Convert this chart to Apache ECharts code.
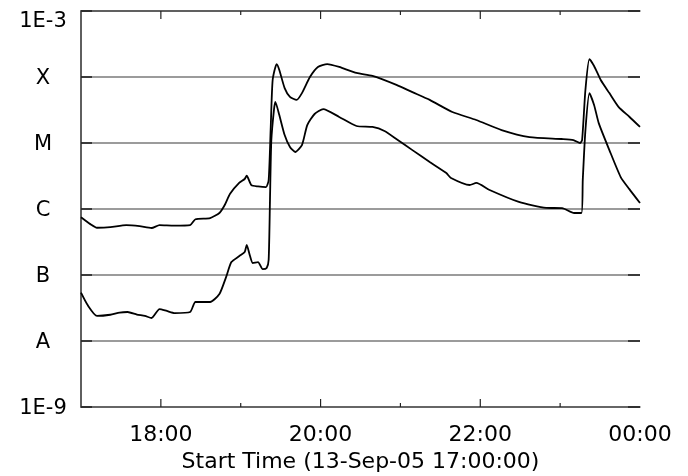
<!DOCTYPE html>
<html>
<head>
<meta charset="utf-8">
<script src="https://cdn.jsdelivr.net/npm/echarts@6/dist/echarts.min.js"></script>
<style>
  html, body { margin: 0; padding: 0; background: #fff; }
  #chart { width: 688px; height: 476px; }
</style>
</head>
<body>
<div id="chart"></div>
<script>
// GOES X-ray flux, 13-Sep-2005 17:00 - 00:00 UT (W/m^2)
// Time is minutes after 17:00:00.
var longMin = [0, 7, 12, 22, 34, 44, 53, 59, 70, 82, 86, 97, 104, 108, 112, 119, 123, 124.5, 128, 133, 139, 141, 142.5, 144, 147, 149, 153, 157, 162, 166, 172, 178, 185, 194, 207, 219, 237, 249, 262, 279, 297, 316, 337, 361, 370, 375, 376.5, 379, 382, 385.5, 390.5, 397, 404, 412, 420];
var longFlux = [7.5e-7, 5.9e-7, 5.2e-7, 5.3e-7, 5.7e-7, 5.5e-7, 5.15e-7, 5.7e-7, 5.6e-7, 5.7e-7, 7.0e-7, 7.3e-7, 8.7e-7, 1.15e-6, 1.7e-6, 2.5e-6, 2.85e-6, 3.2e-6, 2.3e-6, 2.2e-6, 2.15e-6, 2.75e-6, 1.6e-5, 9.0e-5, 1.57e-4, 1.28e-4, 6.8e-5, 5.0e-5, 4.5e-5, 5.7e-5, 1.0e-4, 1.42e-4, 1.57e-4, 1.42e-4, 1.15e-4, 1.04e-4, 7.6e-5, 5.9e-5, 4.5e-5, 2.95e-5, 2.23e-5, 1.57e-5, 1.23e-5, 1.15e-5, 1.11e-5, 1.0e-5, 1.11e-5, 6.4e-5, 1.87e-4, 1.47e-4, 9.0e-5, 5.7e-5, 3.5e-5, 2.5e-5, 1.75e-5];

var shortMin = [0, 5, 12, 22, 29, 35, 42, 48, 53, 59, 64.5, 70.5, 82, 86, 97, 104, 109, 113, 119, 123, 124.5, 127, 129, 133, 136.5, 139.5, 141, 142, 143, 145, 146, 149, 153, 157, 161, 166, 170, 175.5, 182, 194, 207, 219, 228, 238, 249, 262, 274.5, 278, 292, 297, 307, 329, 349.5, 361.5, 370.5, 376, 377, 379, 382, 385.5, 389, 397, 405.5, 412, 420];
var shortFlux = [5.4e-8, 3.5e-8, 2.4e-8, 2.5e-8, 2.7e-8, 2.75e-8, 2.52e-8, 2.4e-8, 2.23e-8, 3.05e-8, 2.85e-8, 2.65e-8, 2.75e-8, 3.9e-8, 3.9e-8, 5.15e-8, 9.3e-8, 1.57e-7, 1.94e-7, 2.23e-7, 2.85e-7, 1.94e-7, 1.52e-7, 1.57e-7, 1.23e-7, 1.28e-7, 1.7e-7, 1.4e-6, 1.1e-5, 3.2e-5, 4.2e-5, 2.65e-5, 1.32e-5, 8.7e-6, 7.3e-6, 9.3e-6, 1.87e-5, 2.75e-5, 3.27e-5, 2.48e-5, 1.81e-5, 1.75e-5, 1.52e-5, 1.11e-5, 7.8e-6, 5.15e-6, 3.5e-6, 2.95e-6, 2.31e-6, 2.48e-6, 1.94e-6, 1.28e-6, 1.04e-6, 1.03e-6, 8.7e-7, 8.7e-7, 2.75e-6, 1.57e-5, 5.7e-5, 3.77e-5, 2.0e-5, 7.8e-6, 3.05e-6, 2.0e-6, 1.23e-6];

// Axis labels and tick positions
var fluxDecades = [1e-9, 1e-8, 1e-7, 1e-6, 1e-5, 1e-4, 1e-3];
var fluxLabels = { '-3': '1E-3', '-4': 'X', '-5': 'M', '-6': 'C', '-7': 'B', '-8': 'A', '-9': '1E-9' };
var timeLabelValues = [60, 180, 300, 420];
var timeLabels = ['18:00', '20:00', '22:00', '00:00'];
var majorTickValues = [60, 180, 300];
var minorTickValues = [120, 240, 360];
var xTitle = 'Start Time (13-Sep-05 17:00:00)';

function pairs(xs, ys) {
  return xs.map(function (x, i) { return [x, ys[i]]; });
}

var FONT = 'DejaVu Sans';
var axisColor = '#555';
var gridColor = '#7a7a7a';
var tickColor = '#222';
var hidden = { show: false };

var labelBox = { width: 62, align: 'center', fontFamily: FONT, fontSize: 21, color: '#000' };

var option = {
  animation: false,
  backgroundColor: '#fff',
  grid: { left: 81, right: 48, top: 11, bottom: 69, containLabel: false, outerBoundsMode: 'none' },
  xAxis: [
    {
      type: 'value', position: 'bottom', min: 0, max: 420, interval: 60,
      axisLine: { show: true, lineStyle: { color: axisColor, width: 1.5 } },
      axisTick: hidden,
      axisLabel: {
        show: true, customValues: timeLabelValues, margin: 17,
        fontFamily: FONT, fontSize: 22, color: '#000',
        formatter: function (v) { return timeLabels[timeLabelValues.indexOf(v)]; }
      },
      splitLine: hidden,
      name: xTitle, nameLocation: 'middle', nameGap: 30,
      nameTextStyle: { fontFamily: FONT, fontSize: 22, color: '#000' }
    },
    {
      type: 'value', position: 'top', min: 0, max: 420, interval: 60,
      axisLine: { show: true, lineStyle: { color: axisColor, width: 1.5 } },
      axisTick: hidden, axisLabel: hidden, splitLine: hidden
    }
  ],
  yAxis: [
    {
      type: 'log', logBase: 10, min: 1e-9, max: 1e-3, position: 'left',
      axisLine: { show: true, lineStyle: { color: axisColor, width: 1.5 } },
      axisTick: hidden,
      minorTick: hidden,
      axisLabel: {
        align: 'right', margin: 7,
        formatter: function (v) {
          var e = Math.round(Math.log10(v));
          var text = fluxLabels[String(e)] || '';
          return e === -3 ? '{top|' + text + '}' : '{lab|' + text + '}';
        },
        rich: {
          lab: Object.assign({ padding: [3, 0, 0, 0] }, labelBox),
          top: Object.assign({ padding: [21, 0, 0, 0] }, labelBox)
        }
      },
      splitLine: { show: true, lineStyle: { color: gridColor, width: 1.5 } },
      minorSplitLine: hidden
    },
    {
      type: 'log', logBase: 10, min: 1e-9, max: 1e-3, position: 'right',
      axisLine: { show: true, lineStyle: { color: axisColor, width: 1.5 } },
      axisTick: hidden, minorTick: hidden, axisLabel: hidden, splitLine: hidden
    }
  ],
  series: [
    {
      name: '1.0-8.0 A', type: 'line', xAxisIndex: 0, yAxisIndex: 0,
      data: pairs(longMin, longFlux), showSymbol: false, smooth: 0.2,
      lineStyle: { color: '#000', width: 1.8 }, z: 5
    },
    {
      name: '0.5-4.0 A', type: 'line', xAxisIndex: 0, yAxisIndex: 0,
      data: pairs(shortMin, shortFlux), showSymbol: false, smooth: 0.2,
      lineStyle: { color: '#000', width: 1.8 }, z: 5
    }
  ]
};

var chart = echarts.init(document.getElementById('chart'), null, { renderer: 'canvas' });
chart.setOption(option);

// Inward-pointing tick marks on all four sides of the plot box,
// placed through the axes' own scales.
function toX(v) { return chart.convertToPixel({ xAxisIndex: 0 }, v); }
function toY(v) { return chart.convertToPixel({ yAxisIndex: 0 }, v); }

var xLeft = toX(0), xRight = toX(420);
var yBottom = toY(1e-9), yTop = toY(1e-3);
var ticks = [];

function tick(x1, y1, x2, y2, w) {
  ticks.push({
    type: 'line', silent: true, z: 4,
    shape: { x1: x1, y1: y1, x2: x2, y2: y2 },
    style: { stroke: tickColor, lineWidth: w }
  });
}

majorTickValues.forEach(function (v) {
  var x = toX(v);
  tick(x, yBottom, x, yBottom - 8, 1.2);
  tick(x, yTop, x, yTop + 8, 1.2);
});
minorTickValues.forEach(function (v) {
  var x = toX(v);
  tick(x, yBottom, x, yBottom - 4, 1.2);
  tick(x, yTop, x, yTop + 4, 1.2);
});
fluxDecades.forEach(function (v) {
  var y = toY(v);
  tick(xLeft, y, xLeft + 11, y, 1.6);
  tick(xRight - 12, y, xRight, y, 1.6);
});

chart.setOption({ graphic: ticks });
</script>
</body>
</html>
